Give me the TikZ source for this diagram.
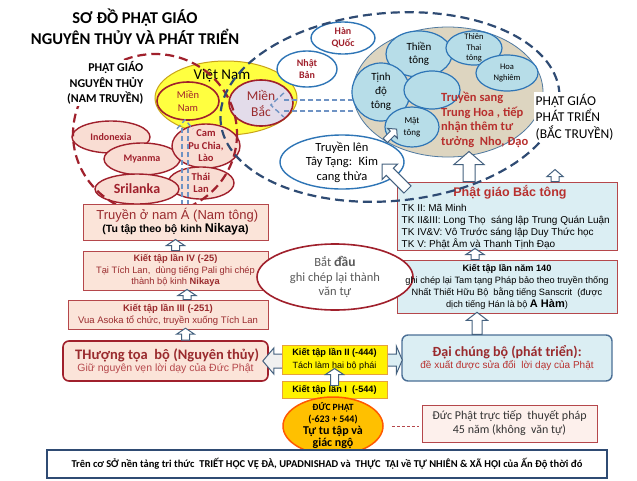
\documentclass[tikz,border=0pt]{standalone}
\usepackage{fontspec}
\setmainfont{Carlito}
\newfontfamily\arial{Liberation Sans}
\usetikzlibrary{shapes.geometric,calc}
\definecolor{dred}{HTML}{A0202C}
\definecolor{txtred}{HTML}{9A2B2E}
\definecolor{tred}{HTML}{B8302E}
\definecolor{bred}{HTML}{B5474B}
\definecolor{peach}{HTML}{FBE4D9}
\definecolor{lpeach}{HTML}{F9DDD3}
\definecolor{bblue}{HTML}{2E75B6}
\definecolor{lblue}{HTML}{B7DDE8}
\definecolor{boxblue}{HTML}{DBEEF3}
\definecolor{beige}{HTML}{DDD5C0}
\definecolor{navy}{HTML}{2F4B73}
\definecolor{dblue}{HTML}{6F93C4}
\definecolor{vnyel}{HTML}{FFFF40}
\definecolor{gold}{HTML}{C9A318}
\definecolor{lav}{HTML}{E3DCEA}
\definecolor{orng}{HTML}{FFC000}
\definecolor{arrc}{HTML}{44617F}
\definecolor{gtxt}{HTML}{595959}
\definecolor{ybord}{HTML}{E6A23C}
\definecolor{bgray}{HTML}{4A6F96}
\definecolor{lpink}{HTML}{FDF0EC}
\newcommand\fz[2]{\fontsize{#1}{#2}\selectfont}
\newcommand\harrow[6]{\begin{scope}[shift={#1},rotate=#2]
\draw[harr] (0,-#4) -- ({#3-#6},-#4) -- ({#3-#6},-#5) -- (#3,0) -- ({#3-#6},#5) -- ({#3-#6},#4) -- (0,#4) -- cycle;
\end{scope}}
\tikzset{
 lel/.style={ellipse, draw=dred, line width=1.4pt, fill=lpeach, inner sep=0pt},
 bel/.style={ellipse, draw=bblue, line width=1.2pt, fill=lblue, inner sep=0pt},
 wel/.style={ellipse, draw=bblue, line width=1.4pt, fill=white, inner sep=0pt},
 ltxt/.style={text=dred, font=\bfseries\fz{10}{12}, align=center, inner sep=0pt},
 pbox/.style={rectangle, draw=bred, line width=1pt, fill=peach, inner sep=0pt, align=center, text=txtred},
 bbox/.style={rectangle, draw=bred, line width=1pt, fill=boxblue, inner sep=0pt},
 ybox/.style={rectangle, draw=ybord, line width=1pt, fill=yellow, inner sep=0pt, align=center, font=\arial\bfseries\fz{9.2}{13}},
 harr/.style={draw=arrc, fill=white, line width=1pt, line join=miter},
 bdash/.style={draw=dblue, line width=1.4pt, dash pattern=on 5pt off 3pt},
 bigdash/.style={line width=2.2pt, dash pattern=on 9pt off 5pt},
}
\begin{document}
\begin{tikzpicture}[x=1pt,y=-1pt]
\useasboundingbox (0,0) rectangle (637,480);
\fill[white] (0,0) rectangle (637,480);

% title
\node[font=\bfseries\fz{16.5}{21}, align=center] (title) at (135,27) {SƠ ĐỒ PHẬT GIÁO\\NGUYÊN THỦY VÀ PHÁT TRIỂN};

% Viet Nam
\node[ellipse, draw=gold, line width=1pt, fill=vnyel, minimum width=142, minimum height=74, inner sep=0pt] (vn) at (226,98) {};
\node[font=\fz{15}{15}, inner sep=0pt] (vnt) at (222,76) {Việt Nam};
\node[ellipse, draw=dred, line width=1.6pt, fill=vnyel, minimum width=62, minimum height=38, inner sep=0pt] (mn) at (188,101) {};
\node[text=dred, font=\fz{10.5}{13}, align=center, inner sep=0pt] at (mn) {Miền\\Nam};
\node[ellipse, draw=dred, line width=1.6pt, fill=lav, minimum width=64, minimum height=46, inner sep=0pt] (mb) at (261,103) {};
\node[text=txtred, font=\fz{13.5}{16}, align=center, inner sep=0pt] at (mb) {Miền\\Bắc};

% South countries
\node[lel, minimum width=78, minimum height=32] (indo) at (111,137) {};
\node[ltxt] at (indo) {Indonexia};
\node[lel, minimum width=76, minimum height=32] (mya) at (142,159) {};
\node[ltxt] at (mya) {Myanma};
\node[lel, minimum width=68, minimum height=44] (cam) at (206,146) {};
\node[ltxt, font=\bfseries\fz{10.5}{12.5}] at (cam) {Cam\\Pu Chia,\\Lào};
\node[lel, minimum width=66, minimum height=32] (thai) at (201,183) {};
\node[ltxt, font=\bfseries\fz{10.5}{12.5}] at (thai) {Thái\\Lan};
\node[lel, minimum width=84, minimum height=30] (sri) at (137,189) {};
\node[ltxt, font=\bfseries\fz{14}{14}] at (sri) {Srilanka};

% North
\node[wel, minimum width=64, minimum height=32] (hq) at (343,38) {};
\node[ltxt] at (hq) {Hàn\\QUốc};
\node[wel, minimum width=60, minimum height=36] (nb) at (307,69) {};
\node[ltxt] at (nb) {Nhật\\Bản};
\node[ellipse, draw=bblue!60!gray, line width=0.8pt, fill=beige, minimum width=190, minimum height=130, inner sep=0pt] (th) at (448,92) {};
\node[bel, minimum width=66, minimum height=46] (thien) at (419,54) {};
\node[font=\fz{11}{13.5}, align=center, inner sep=0pt] at (thien) {Thiền\\tông};
\node[bel, minimum width=56, minimum height=34] (ttai) at (474,48) {};
\node[font=\fz{8.5}{10.5}, align=center, inner sep=0pt] at (ttai) {Thiên\\Thai\\tông};
\node[bel, minimum width=62, minimum height=36] (hoa) at (507,73) {};
\node[font=\fz{8.5}{11}, align=center, inner sep=0pt] at (hoa) {Hoa\\Nghiêm};
\node[bel, minimum width=58, minimum height=58] (tinh) at (381,92) {};
\node[font=\fz{11}{14}, align=center, inner sep=0pt] at (tinh) {Tịnh\\độ\\tông};
\node[bel, minimum width=56, minimum height=38] (mid) at (432,90) {};
\node[bel, minimum width=54, minimum height=40] (mat) at (412,127) {};
\node[font=\fz{9}{12}, align=center, inner sep=0pt] at (mat) {Mật\\tông};
\node[text=tred, font=\bfseries\fz{12.5}{14.7}, align=left, anchor=west, inner sep=0pt] (tsang) at (441,120) {Truyền sang\\Trung Hoa , tiếp\\nhận thêm tư\\tưởng~ Nho, Đạo};

\node[wel, minimum width=124, minimum height=54] (tt) at (342,162) {};
\node[font=\fz{12.5}{14.5}, align=center, inner sep=0pt] at (tt) {Truyền lên\\Tây Tạng:~ Kim\\cang thừa};

% dashed arrow South -> Mien Nam
\draw[bdash] ($(mn.south)+(-6,84)$) -- ($(mn.south)+(-6,4)$);
\draw[bdash] ($(mn.south)+(0,84)$) -- ($(mn.south)+(0,4)$);
\draw[bdash] ($(mn.south)+(-11,8)$) -- ($(mn.south)+(-3,-1)$) -- ($(mn.south)+(5,8)$);

% dashed arrow Tinh do -> Mien Bac
\draw[bdash] ($(tinh.west)+(2,8)$) -- ($(mb.east)+(-10,-3)$);
\draw[bdash] ($(tinh.west)+(2,19)$) -- ($(mb.east)+(-10,8)$);
\draw[bdash] ($(mb.east)+(-10,-10)$) -- ($(mb.east)+(-23,2)$) -- ($(mb.east)+(-10,14)$);

% big dashed red circle
\draw[bigdash, draw=dred] (155,134) ellipse [x radius=82, y radius=80];
\node[font=\bfseries\fz{12}{15.5}, align=right, anchor=east, inner sep=1.5pt, fill=white] (lbl1) at (145,83) {PHẬT GIÁO\\NGUYÊN THỦY\\(NAM TRUYỀN)};

% left chain boxes
\node[pbox, minimum width=185, minimum height=36] (nama) at (175.5,222) {{\arial\fz{13}{15} Truyền ở nam Á (Nam tông)}\\[1pt]{\arial\bfseries\fz{10.5}{13}\color{black}(Tu tập theo bộ kinh {\fz{12.5}{13}Nikaya})}};
\node[pbox, minimum width=185, minimum height=39, font=\arial\fz{9.3}{11.3}] (kt4) at (175.5,270.5) {{\bfseries Kiết tập lần IV (-25)}\\Tại Tích Lan,~ dùng tiếng Pali ghi chép\\thành bộ kinh {\bfseries Nikaya}};
\node[pbox, minimum width=200, minimum height=29, font=\arial\fz{9.5}{12}] (kt3) at (168,314.5) {{\bfseries Kiết tập lần III (-251)}\\Vua Asoka tổ chức, truyền xuống Tích Lan};
\node[pbox, draw=dred, line width=1.6pt, rounded corners=6pt, minimum width=205, minimum height=40] (ttb) at (165.5,361) {{\bfseries\fz{14.5}{16} THượng tọa~ bộ (Nguyên thủy)}\\{\arial\fz{10.5}{13}\color{bred} Giữ nguyên vẹn lời dạy của Đức Phật}};

% right boxes
\node[bbox, minimum width=220, minimum height=68] (bactong) at (507,216) {};
\node[text=tred, font=\arial\bfseries\fz{12.5}{14}, inner sep=0pt] at ($(bactong.north)+(3,11)$) {Phật giáo Bắc tông};
\node[font=\arial\fz{10}{11.8}, align=left, anchor=north west, inner sep=0pt] (bactxt) at ($(bactong.north west)+(5,23)$) {TK II: Mã Minh\\TK II\&III: Long Thọ~ sáng lập Trung Quán Luận\\TK IV\&V: Vô Trước sáng lập Duy Thức học\\TK V: Phật Âm và Thanh Tịnh Đạo};
\node[bbox, minimum width=220, minimum height=53] (kt140) at (507,286.5) {};

\node[ellipse, draw=dred, line width=1.6pt, fill=white, minimum width=156, minimum height=66, inner sep=0pt] (bd) at (335,277) {};
\node[text=gtxt, font=\fz{12.5}{14.5}, align=center, inner sep=0pt] at (bd) {Bắt {\bfseries\fz{13.5}{14.5}đầu}\\ghi chép lại thành\\văn tự};
\node[font=\arial\fz{9.2}{12}, align=center, inner sep=0pt] at (kt140) {{\bfseries Kiết tập lần năm 140}\\ghi chép lại Tam tạng Pháp bảo theo truyền thống\\Nhất Thiết Hữu Bộ~ bằng tiếng Sanscrit~ (được\\dịch tiếng Hán là bộ {\bfseries\fz{11}{12}A Hàm})};

\node[rectangle, draw=bgray, line width=1.4pt, fill=boxblue, rounded corners=6pt, minimum width=210, minimum height=46, inner sep=0pt, align=center] (dcb) at (507,358) {{\bfseries\fz{14}{16}\color{txtred} Đại chúng bộ (phát triển):}\\{\arial\fz{10}{12}\color{tred} đề xuất được sửa đổi~ lời dạy của Phật}};

% block arrows beside Kiet tap II
\begin{scope}[shift={(ttb.east)}]
\draw[harr, fill=gray!12] (22,-7) -- (5,-7) -- (5,-13) -- (-6,0) -- (5,13) -- (5,7) -- (22,7) -- cycle;
\end{scope}
\begin{scope}[shift={(dcb.west)}]
\draw[harr, fill=boxblue] (-20,-4) -- (-5,-4) -- (-5,-12) -- (1,2) -- (-5,16) -- (-5,8) -- (-20,8) -- cycle;
\end{scope}

\node[ybox, minimum width=105, minimum height=29] (kt2) at (334.5,359.5) {Kiết tập lần II (-444)\\{\mdseries\fz{9}{12}Tách làm hai bộ phái}};
\node[ybox, minimum width=105, minimum height=17] (kt1) at (334.5,389.5) {Kiết tập lần I~ (-544)};
\node[ellipse, draw=orange!70!red, line width=1.5pt, fill=orng, minimum width=100, minimum height=58, inner sep=0pt] (dp) at (333,426) {};
\node[font=\bfseries, align=center, inner sep=0pt] at (dp) {{\fz{9.5}{12}ĐỨC PHẬT}\\{\fz{10}{12}(-623 + 544)}\\{\fz{12}{13}Tự tu tập và}\\{\fz{12}{13}giác ngộ}};
\node[rectangle, draw=bred, line width=1pt, fill=lpink, minimum width=175, minimum height=37, inner sep=0pt, align=center, font=\fz{12}{14}, text=black!80] (dptt) at (509.5,423.5) {Đức Phật trực tiếp~ thuyết pháp\\45 năm (không~ văn tự)};
\draw[bred, densely dashed, line width=0.8pt] ($(dp.east)+(8,0)$) -- ($(dptt.west)+(-3,2.5)$);

\node[rectangle, draw=navy, line width=1.5pt, fill=white, minimum width=560, minimum height=28, inner sep=0pt, font=\bfseries\fz{10.5}{12}] (base) at (327,464) {Trên cơ SỞ nền tảng tri thức~ TRIẾT HỌC VỆ ĐÀ, UPADNISHAD và~ THỰC~ TẠI về TỰ NHIÊN \& XÃ HỘI của Ấn Độ thời đó};

% big dashed blue ellipse
\draw[bigdash, draw=navy, rotate around={5:(390,107)}] (390,107) ellipse [x radius=170, y radius=94];
\node[fill=white, inner sep=1.5pt, anchor=west, align=left, font=\fz{13.5}{16.5}] (lbl2) at (534,117) {PHẬT GIÁO\\PHÁT TRIỂN\\(BẮC TRUYỀN)};

% hollow arrows
\harrow{(kt4.north)}{90}{11}{4}{9}{6}
\harrow{($(kt3.north)+(19,0)$)}{90}{10}{4}{9}{6}
\harrow{($(ttb.north)+(20,0)$)}{90}{12}{4}{9}{6}
\harrow{($(kt1.north)+(0,5)$)}{90}{17}{4}{9}{6}
\harrow{($(dcb.north)+(-30,0)$)}{90}{22}{5}{10.5}{8}
\harrow{($(kt140.north)+(-32,0)$)}{90}{11}{4}{9}{6}
\harrow{($(bactong.north)+(-38,0)$)}{90}{30}{6}{15}{13}
\harrow{($(bactong.north)+(48,0)$)}{90}{12}{4}{8}{7}
\harrow{($(bactong.north west)+(11,8)$)}{135}{36}{5}{11}{11}
\harrow{($(tt.north east)+(-1,-2)$)}{45}{16}{3}{7}{6}
\end{tikzpicture}
\end{document}
